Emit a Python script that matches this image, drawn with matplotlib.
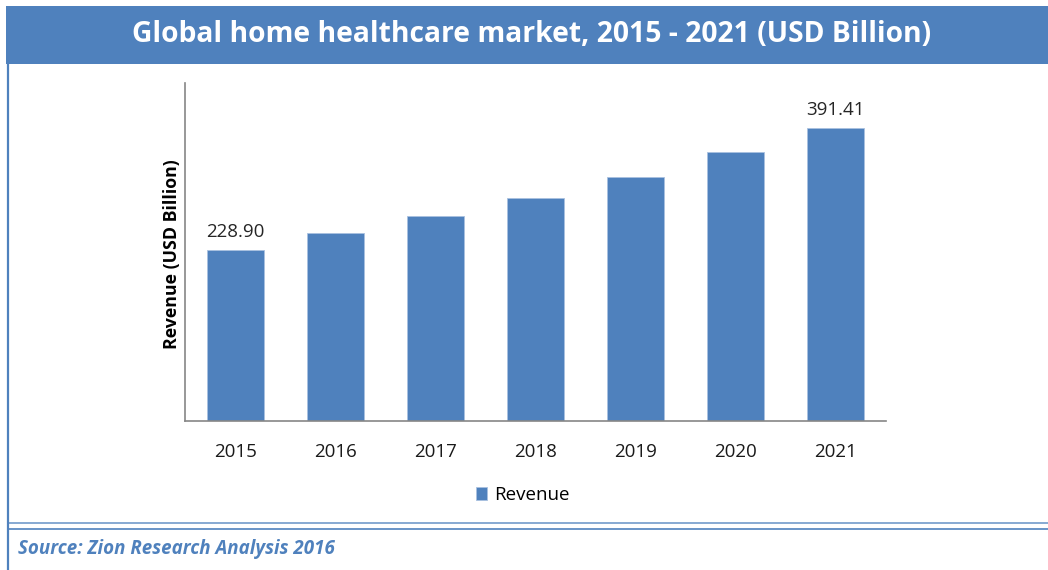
import matplotlib
matplotlib.use("Agg")
import matplotlib.pyplot as plt
from matplotlib.patches import Rectangle
from matplotlib.lines import Line2D

years = ["2015", "2016", "2017", "2018", "2019", "2020", "2021"]
revenue = [228.90, 250.7, 274.3, 298.4, 326.5, 359.1, 391.41]
labeled = {0: "228.90", 6: "391.41"}
title = "Global home healthcare market, 2015 - 2021 (USD Billion)"
ylabel = "Revenue (USD Billion)"
series_name = "Revenue"
source = "Source: Zion Research Analysis 2016"

BLUE = "#4F81BD"
W, H = 1048, 570
fig = plt.figure(figsize=(W / 100, H / 100), dpi=100)
fig.patch.set_facecolor("white")

def fx(px):
    return px / W

def fy(py):
    return 1 - py / H

# Title banner
fig.patches.append(Rectangle((fx(6), fy(64)), fx(1048 - 6), (64 - 6) / H,
                             transform=fig.transFigure, facecolor=BLUE,
                             edgecolor="none", zorder=0))
fig.text(fx(532), fy(34), title, color="white", fontsize=20.3, fontweight="bold",
         ha="center", va="center", family="Open Sans")
# frame lines
fig.lines.append(Line2D([fx(7.5), fx(7.5)], [fy(64), fy(570)], transform=fig.transFigure,
                        color=BLUE, lw=1.6))
fig.lines.append(Line2D([fx(7.5), fx(1048)], [fy(523.3), fy(523.3)], transform=fig.transFigure,
                        color=BLUE, lw=1.2, alpha=0.8))
fig.lines.append(Line2D([fx(7.5), fx(1048)], [fy(528.7), fy(528.7)], transform=fig.transFigure,
                        color=BLUE, lw=1.2))

ax = fig.add_axes([fx(185), fy(420.7), fx(886 - 185), (420.7 - 83) / H])
x = list(range(len(years)))
bars = ax.bar(x, revenue, width=0.57, color=BLUE, edgecolor="#a9c1e0", linewidth=0.6,
              label=series_name, zorder=2)
for i, txt in labeled.items():
    ax.text(x[i], revenue[i] + 12, txt, ha="center", va="bottom", fontsize=13.5,
            color="#262626", family="Open Sans")
ax.set_xlim(-0.5, len(years) - 0.5)
ax.set_ylim(0, 452)
ax.set_xticks(x)
ax.set_xticklabels(years, fontsize=13.5, color="#1a1a1a", family="Open Sans")
ax.tick_params(axis="x", length=0, pad=16)
ax.set_yticks([])
for s in ["top", "right"]:
    ax.spines[s].set_visible(False)
for s in ["left", "bottom"]:
    ax.spines[s].set_color("#868686")
    ax.spines[s].set_linewidth(1.2)
fig.text(fx(172), fy(254), ylabel, rotation=90, ha="center", va="center",
         fontsize=12.8, fontweight="bold", family="Open Sans", color="black")

ax.legend(loc="center", bbox_to_anchor=(fx(523), fy(495)), bbox_transform=fig.transFigure,
          frameon=False, handlelength=0.6, handleheight=0.7, handletextpad=0.4,
          prop={"family": "Open Sans", "size": 13.5})

fig.text(fx(18), fy(549), source, color=BLUE, fontsize=13.5, fontstyle="italic",
         fontweight="bold", ha="left", va="center", family="Open Sans")

fig.savefig("out.png", dpi=100, facecolor="white")
